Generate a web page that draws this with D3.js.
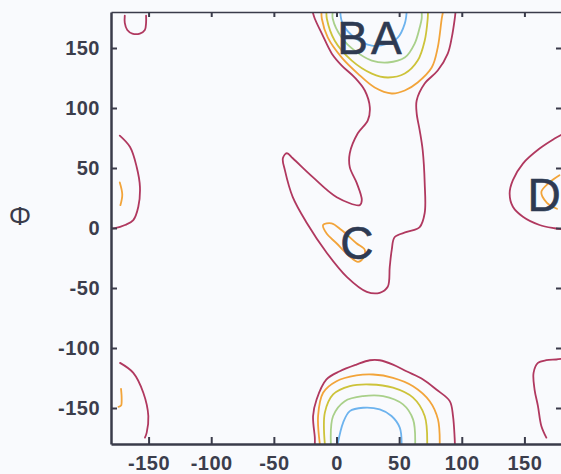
<!DOCTYPE html>
<html>
<head>
<meta charset="utf-8">
<script src="https://cdn.jsdelivr.net/npm/d3@7"></script>
<style>
    html, body { margin: 0; padding: 0; background: #f9fafd; }
    svg { display: block; }
    .tick text { font-family: "Liberation Sans", Arial, sans-serif; font-weight: bold; font-size: 20px; letter-spacing: 0.5px; fill: #3b3d4c; }
    .region-label { font-family: "Liberation Sans", Arial, sans-serif; font-size: 46px; fill: #2e3a52; stroke: #2e3a52; stroke-width: 0.6px; }
</style>
</head>
<body>
<div class="chart"></div>
<script>
/* ---------------------------------------------------- +/

## Contour map ##

Psi on the x axis, Phi on the y axis, five contour levels

/+ ---------------------------------------------------- */

var psiTicks = [-150, -100, -50, 0, 50, 100, 150];
var phiTicks = [-150, -100, -50, 0, 50, 100, 150];

// outer -> inner level
var levelColors = ["#b0385f", "#f2a43a", "#cdc33a", "#a9d08a", "#6db3ee"];

// [psi, phi] points
var ridgeOuter = [[-19, 180], [-17.3, 174.4], [-11.7, 162], [-3.7, 145.3], [4.2, 135.4], [14.6, 125.4],
    [22.6, 114.6], [26.6, 100.5], [25, 89.7], [17, 78.9], [10.6, 62.3], [10.6, 50.7], [16.2, 37.4],
    [20.2, 23.3], [18.6, 19.1], [0.2, 25.7], [-18.9, 42.4], [-34.9, 58.1], [-39.6, 62.3], [-42.8, 58.1],
    [-41.2, 48.2], [-34.9, 25.7], [-23.7, 4.2], [-7.7, -20.8], [8.2, -40.7], [24.2, -53.2], [34.5, -54],
    [40.9, -49], [42.5, -32.4], [44.1, -18.3], [46.5, -7.5], [56.1, -3.3], [66.4, 0.8], [70.4, 12.5],
    [70.4, 37.4], [68.8, 64.8], [66.4, 81.4], [64, 95.5], [64, 106.3], [70.4, 120.4], [80.8, 131.2],
    [88.8, 145.3], [92, 158.6], [94.4, 174.4], [95, 180]];
var topOrange = [[-12, 180], [-11.7, 174.4], [-6.9, 158.6], [4.2, 142], [17, 128.7], [30.5, 117.1],
    [44.1, 112.1], [54.5, 114.6], [64.8, 121.3], [76, 133.7], [80.8, 150.3], [84, 174.4], [85, 180]];
var topYellow = [[-8, 180], [-7.7, 174.4], [-1.4, 156.1], [12.2, 139.5], [28.2, 128.7], [40.9, 125.4],
    [54.5, 128.7], [64.8, 139.5], [70.4, 156.1], [72.8, 174.4], [73, 180]];
var topGreen = [[-3, 180], [-3, 174.4], [4.2, 158.6], [14.6, 147.8], [28.2, 139.5], [40.9, 137.9],
    [54.5, 142], [62.4, 153.7], [66.4, 167], [68, 174.4], [68, 180]];
var topBlue = [[3, 180], [5, 170], [14.6, 158.6], [28.2, 152], [40.9, 153.7], [48.9, 158.6],
    [54.5, 170.3], [56, 180]];

var bottomMaroon = [[-17.3, -180], [-17.3, -174.7], [-18.7, -156.7], [-15.9, -142.9], [-8, -126.2],
    [2.6, -119.4], [15.9, -113.8], [26.6, -110.2], [34.5, -110.2], [45.1, -113.8], [55.8, -119.4],
    [69.1, -126.2], [79.7, -134.6], [90.4, -144.3], [93, -156.7], [94.3, -174.7], [94.5, -180]];
var bottomOrange = [[-13.3, -180], [-14.7, -156.7], [-10.7, -137.3], [0, -127.7], [15.9, -122.9],
    [29.2, -122.1], [45.1, -124.8], [61.1, -131.8], [74.4, -144.3], [81, -159.5], [82.4, -180]];
var bottomYellow = [[-9.3, -180], [-9.3, -153.9], [-2.7, -138.7], [10.6, -131.8], [26.6, -130.4],
    [45.1, -133.1], [61.1, -141.4], [70.4, -156.7], [72.4, -180]];
var bottomGreen = [[-4.5, -180], [-2.7, -156.7], [6.6, -144.3], [21.2, -140.1], [37.2, -140.1],
    [53.1, -147], [61.1, -159.5], [62.8, -180]];
var bottomBlue = [[1, -180], [5.3, -162.2], [10.6, -152.6], [21.2, -149.8], [34.5, -151.2],
    [43.9, -156.7], [50.5, -166.4], [52, -180]];

var cornerLoop = [[-169, 177], [-169, 171], [-167, 165], [-163, 162], [-157, 162], [-153, 165],
    [-152, 171], [-152, 177]];
var leftMaroon = [[-173, 77], [-164.8, 67.5], [-159.5, 50.9], [-156.9, 34.3], [-158.2, 17.7],
    [-162.2, 6.6], [-168.8, 2.5], [-176.8, -0.2], [-180, -0.5]];
var leftOrange = [[-173, 38], [-171, 28], [-172.5, 19]];
var leftLowMaroon = [[-172.8, -112.4], [-162.2, -120.7], [-154.2, -137.3], [-150.2, -156.7],
    [-151.5, -170.5], [-152.9, -174.7]];
var leftLowOrange = [[-172, -134], [-171.5, -142], [-172, -148], [-174, -149]];
var rightMaroon = [[180, 78], [174.1, 74.5], [162.1, 66.2], [148.8, 53.7], [140.8, 39.9], [138.2, 28.8],
    [140.8, 17.7], [148.8, 9.4], [162.1, 2.5], [174.1, -0.2], [180, -1]];
var rightOrange = [[178, 44], [170, 38], [163.5, 30], [168, 21], [176, 16]];
var rightLowMaroon = [[180, -109], [175.4, -109.6], [167.5, -110.2], [160.8, -112.4], [157.3, -120.7],
    [158.1, -134.6], [160.8, -148.4], [163.5, -165], [167.5, -174.7]];
var cOrange = [[-10.7, 2.5], [-4, 3.9], [4, -1.7], [15.9, -12.7], [22.6, -18.3], [21.2, -25.2],
    [17.2, -28.2], [10.6, -23.8], [0, -12.7], [-8, -4.4]];

var regionNames = ["B", "A", "C", "D"];
var regionPsi = [0.5, 27.5, 3, 152.5];
var regionPhi = [145.3, 145.3, -26, 14.1];

var contours = [
    { points: ridgeOuter, level: 0 }, { points: topOrange, level: 1 }, { points: topYellow, level: 2 },
    { points: topGreen, level: 3 }, { points: topBlue, level: 4 },
    { points: bottomMaroon, level: 0 }, { points: bottomOrange, level: 1 }, { points: bottomYellow, level: 2 },
    { points: bottomGreen, level: 3 }, { points: bottomBlue, level: 4 },
    { points: cornerLoop, level: 0 }, { points: leftMaroon, level: 0 }, { points: leftOrange, level: 1 },
    { points: leftLowMaroon, level: 0 }, { points: leftLowOrange, level: 1 },
    { points: rightMaroon, level: 0 }, { points: rightOrange, level: 1 },
    { points: rightLowMaroon, level: 0 },
    { points: cOrange, level: 1, closed: true }
];

/**
 * Setup drawing area
 */
var width = 561;
var height = 474;
var margin = { top: 12, right: -1, bottom: 30, left: 111 };
var plotW = width - margin.left - margin.right;
var plotH = height - margin.top - margin.bottom;

var svg = d3.select(".chart").append("svg")
    .attr("width", width)
    .attr("height", height);

var x = d3.scaleLinear().domain([-180, 180]).range([0, plotW]);
var y = d3.scaleLinear().domain([-180, 180]).range([plotH, 0]);

var g = svg.append("g")
    .attr("transform", "translate(" + margin.left + "," + margin.top + ")");

g.append("clipPath")
    .attr("id", "plot-clip")
  .append("rect")
    .attr("width", plotW)
    .attr("height", plotH);

/**
 * Contour lines
 */
var openLine = d3.line()
    .x(function(d) { return x(d[0]); })
    .y(function(d) { return y(d[1]); })
    .curve(d3.curveCatmullRom.alpha(0.5));
var closedLine = d3.line()
    .x(function(d) { return x(d[0]); })
    .y(function(d) { return y(d[1]); })
    .curve(d3.curveCatmullRomClosed.alpha(0.5));

g.append("g")
    .attr("clip-path", "url(#plot-clip)")
  .selectAll("path")
    .data(contours)
    .enter().append("path")
    .attr("d", function(c) { return c.closed ? closedLine(c.points) : openLine(c.points); })
    .attr("fill", "none")
    .attr("stroke", function(c) { return levelColors[c.level]; })
    .attr("stroke-width", 1.8)
    .attr("stroke-linejoin", "round")
    .attr("stroke-linecap", "round");

/**
 * Axes, ticks point inward
 */
var axisColor = "#3a3b4a";
var plainNumber = function(d) { return String(d); }; // hyphen minus like the original

var axisL = g.append("g")
    .call(d3.axisLeft(y).tickValues(phiTicks).tickSize(-6).tickSizeOuter(0).tickPadding(11).tickFormat(plainNumber));
var axisB = g.append("g")
    .attr("transform", "translate(0," + plotH + ")")
    .call(d3.axisBottom(x).tickValues(psiTicks).tickSize(-7).tickSizeOuter(0).tickPadding(12).tickFormat(plainNumber));
var axisT = g.append("g")
    .call(d3.axisTop(x).tickValues(psiTicks).tickSize(-5).tickSizeOuter(0).tickFormat(""));
var axisR = g.append("g")
    .attr("transform", "translate(" + plotW + ",0)")
    .call(d3.axisRight(y).tickValues(phiTicks).tickSize(-6).tickSizeOuter(0).tickFormat(""));

[axisL, axisB, axisT, axisR].forEach(function(a) {
    a.selectAll("line").attr("stroke", axisColor).attr("stroke-width", 2);
    a.select(".domain").attr("stroke", axisColor).attr("stroke-width", 2.5);
    a.attr("font-family", null).attr("font-size", null);
});
axisT.select(".domain").attr("stroke-width", 1.5);

// Phi label
svg.append("text")
    .attr("x", 20)
    .attr("y", 225)
    .attr("text-anchor", "middle")
    .style("font-family", "'Noto Sans', 'Liberation Sans', sans-serif")
    .style("font-size", "26px")
    .style("fill", axisColor)
    .text("\u03A6");

/**
 * Region letters
 */
g.selectAll(".region-label")
    .data(regionNames)
    .enter().append("text")
    .attr("class", "region-label")
    .attr("x", function(d, i) { return x(regionPsi[i]); })
    .attr("y", function(d, i) { return y(regionPhi[i]); })
    .text(function(d) { return d; });
</script>
</body>
</html>
